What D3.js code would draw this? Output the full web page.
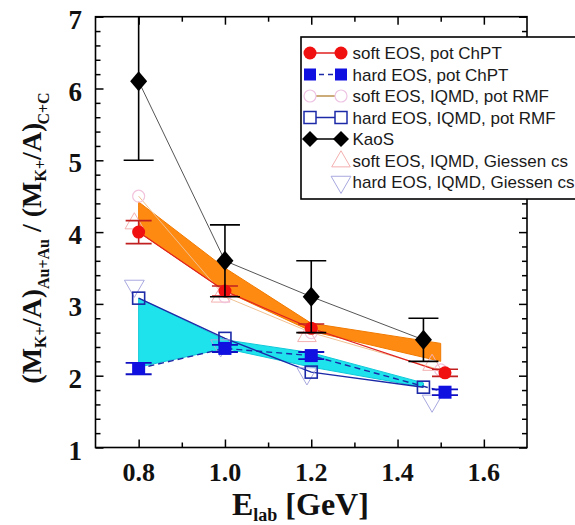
<!DOCTYPE html>
<html><head><meta charset="utf-8">
<script src="https://cdn.jsdelivr.net/npm/d3@7"></script>
<style>html,body{margin:0;padding:0;background:#fff;}svg{display:block;}</style>
</head><body>
<svg id="chart" width="575" height="525"></svg>
<script>
// ---------- data ----------
const xMajorTicks = [0.8, 1.0, 1.2, 1.4, 1.6];
const xMinorTicks = [0.9, 1.1, 1.3, 1.5];
const yMajorTicks = [1, 2, 3, 4, 5, 6, 7];
const yMinorTicks = [1.2,1.4,1.6,1.8,2.2,2.4,2.6,2.8,3.2,3.4,3.6,3.8,4.2,4.4,4.6,4.8,5.2,5.4,5.6,5.8,6.2,6.4,6.6,6.8];

const kaosE   = [0.8, 1.0, 1.2, 1.46];
const kaosVal = [6.1, 3.6, 3.1, 2.5];
const kaosErr = [1.1, 0.5, 0.5, 0.3];

const softChptE   = [0.8, 1.0, 1.2, 1.51];
const softChpt    = [4.0, 3.18, 2.66, 2.04];
const softChptErr = [0.16, 0.07, 0.06, 0.05];

const hardChptE   = [0.8, 1.0, 1.2, 1.51];
const hardChpt    = [2.1, 2.38, 2.28, 1.77];
const hardChptErr = [0.08, 0.05, 0.05, 0.04];

const softRmfE = [0.8, 1.0, 1.2, 1.5];
const softRmf  = [4.5, 3.1, 2.6, 2.08];

const hardRmfE = [0.8, 1.0, 1.2, 1.46];
const hardRmf  = [3.08, 2.52, 2.05, 1.84];

const softGiE = [0.79, 0.99, 1.19, 1.48];
const softGi  = [4.12, 3.1, 2.55, 2.15];

const hardGiE = [0.79, 0.99, 1.19, 1.48];
const hardGi  = [3.25, 2.42, 2.03, 1.65];

const softBandE  = [0.8, 1.0, 1.2, 1.5];
const softBandHi = [4.42, 3.5, 2.73, 2.45];
const softBandLo = [4.0, 3.18, 2.62, 2.2];

const hardBandE  = [0.8, 1.0, 1.2, 1.46];
const hardBandHi = [3.08, 2.5, 2.32, 1.9];
const hardBandLo = [2.12, 2.38, 2.12, 1.84];

const legendLabels = ["soft EOS, pot ChPT","hard EOS, pot ChPT","soft EOS, IQMD, pot RMF","hard EOS, IQMD, pot RMF","KaoS","soft EOS, IQMD, Giessen cs","hard EOS, IQMD, Giessen cs"];

// ---------- drawing ----------
const svg = d3.select("#chart");
const x = d3.scaleLinear().domain([0.7, 1.7]).range([95.5, 527]);
const y = d3.scaleLinear().domain([1, 7]).range([447.5, 16.7]);
const zip = (xs, ys) => xs.map((v, i) => [v, ys[i]]);

const plot = svg.append("g");
plot.append("clipPath").attr("id","clip").append("rect")
  .attr("x", x(0.7)).attr("y", y(7)).attr("width", x(1.7)-x(0.7)).attr("height", y(1)-y(7));
const g = plot.append("g").attr("clip-path","url(#clip)");

// bands
const area = d3.area().x(d => x(d[0])).y0(d => y(d[1])).y1(d => y(d[2]));
g.append("path").datum(softBandE.map((e,i)=>[e, softBandLo[i], softBandHi[i]]))
  .attr("d", area).attr("fill", "#ff8a12").attr("stroke", "#f07a00").attr("stroke-width", 1);
g.append("path").datum(hardBandE.map((e,i)=>[e, hardBandLo[i], hardBandHi[i]]))
  .attr("d", area).attr("fill", "#1ee3ec").attr("stroke", "#10c8d8").attr("stroke-width", 1);

const line = d3.line().x(d => x(d[0])).y(d => y(d[1]));
// series lines
g.append("path").datum(zip(softRmfE, softRmf)).attr("d", line).attr("fill","none").attr("stroke","#f0c090").attr("stroke-width",1);
g.append("path").datum(zip(softChptE, softChpt)).attr("d", line).attr("fill","none").attr("stroke","#e02020").attr("stroke-width",1.2);
g.append("path").datum(zip(hardRmfE, hardRmf)).attr("d", line).attr("fill","none").attr("stroke","#1c2aa8").attr("stroke-width",1.4);
g.append("path").datum(zip(hardChptE, hardChpt)).attr("d", line).attr("fill","none").attr("stroke","#1c2aa8").attr("stroke-width",1.4).attr("stroke-dasharray","6,4");
g.append("path").datum(zip(kaosE, kaosVal)).attr("d", line).attr("fill","none").attr("stroke","#555").attr("stroke-width",1);

// light Giessen triangles
const triUp = d3.symbol().type(d3.symbolTriangle).size(150);
const triDown = d3.symbol().type(d3.symbolTriangle).size(170);
g.selectAll(".sgi").data(zip(softGiE, softGi)).join("path")
  .attr("d", triUp).attr("transform", d => `translate(${x(d[0])},${y(d[1])})`)
  .attr("fill","none").attr("stroke","#f4b0b0").attr("stroke-width",1);
g.selectAll(".hgi").data(zip(hardGiE, hardGi)).join("path")
  .attr("d", triDown).attr("transform", d => `translate(${x(d[0])},${y(d[1])}) rotate(180)`)
  .attr("fill","none").attr("stroke","#a8a8e0").attr("stroke-width",1);

// soft RMF open circles
g.selectAll(".srmf").data(zip(softRmfE, softRmf)).join("circle")
  .attr("cx", d => x(d[0])).attr("cy", d => y(d[1])).attr("r", 6)
  .attr("fill","none").attr("stroke","#f2c4dc").attr("stroke-width",1.2);

// error bars helper
function errBars(es, vs, errs, color, capW, sw) {
  const data = es.map((e,i)=>({e, v: vs[i], s: errs[i]}));
  const eg = g.append("g").attr("stroke", color).attr("stroke-width", sw).attr("fill","none");
  data.forEach(d => {
    eg.append("line").attr("x1", x(d.e)).attr("x2", x(d.e)).attr("y1", y(d.v - d.s)).attr("y2", y(d.v + d.s));
    eg.append("line").attr("x1", x(d.e)-capW/2).attr("x2", x(d.e)+capW/2).attr("y1", y(d.v - d.s)).attr("y2", y(d.v - d.s));
    eg.append("line").attr("x1", x(d.e)-capW/2).attr("x2", x(d.e)+capW/2).attr("y1", y(d.v + d.s)).attr("y2", y(d.v + d.s));
  });
}

// hard RMF open squares
g.selectAll(".hrmf").data(zip(hardRmfE, hardRmf)).join("rect")
  .attr("x", d => x(d[0])-6).attr("y", d => y(d[1])-6).attr("width",12).attr("height",12)
  .attr("fill","none").attr("stroke","#1c2aa8").attr("stroke-width",1.6);

// ChPT error bars & markers
errBars(softChptE, softChpt, softChptErr, "#c02020", 26, 1.6);
errBars(hardChptE, hardChpt, hardChptErr, "#1010c0", 26, 1.8);
g.selectAll(".schpt").data(zip(softChptE, softChpt)).join("circle")
  .attr("cx", d => x(d[0])).attr("cy", d => y(d[1])).attr("r", 6.5).attr("fill","#f01010");
g.selectAll(".hchpt").data(zip(hardChptE, hardChpt)).join("rect")
  .attr("x", d => x(d[0])-6.5).attr("y", d => y(d[1])-6.5).attr("width",13).attr("height",13).attr("fill","#1010e0");

// KaoS
errBars(kaosE, kaosVal, kaosErr, "#000", 30, 1.6);
g.selectAll(".kaos").data(zip(kaosE, kaosVal)).join("path")
  .attr("d", "M0,-10L8.5,0L0,10L-8.5,0Z").attr("transform", d => `translate(${x(d[0])},${y(d[1])})`)
  .attr("fill","#000");

// axes (inward ticks on all sides)
function tickAxis(axisFn, scale, vals, size, transform) {
  plot.append("g").attr("transform", transform)
    .call(axisFn(scale).tickValues(vals).tickSize(size).tickFormat(""))
    .call(s => s.select(".domain").remove())
    .call(s => s.selectAll("line").attr("stroke","#000").attr("stroke-width",1.5));
}
const X0 = x(0.7), X1 = x(1.7), Y0 = y(1), Y1 = y(7);
tickAxis(d3.axisBottom, x, xMajorTicks, -8, `translate(0,${Y0})`);
tickAxis(d3.axisBottom, x, xMinorTicks, -5, `translate(0,${Y0})`);
tickAxis(d3.axisTop, x, xMajorTicks, -8, `translate(0,${Y1})`);
tickAxis(d3.axisTop, x, xMinorTicks, -5, `translate(0,${Y1})`);
tickAxis(d3.axisLeft, y, yMajorTicks, -8, `translate(${X0},0)`);
tickAxis(d3.axisLeft, y, yMinorTicks, -5, `translate(${X0},0)`);
tickAxis(d3.axisRight, y, yMajorTicks, -8, `translate(${X1},0)`);
tickAxis(d3.axisRight, y, yMinorTicks, -5, `translate(${X1},0)`);

plot.append("rect").attr("x", X0).attr("y", Y1).attr("width", X1-X0).attr("height", Y0-Y1)
  .attr("fill","none").attr("stroke","#000").attr("stroke-width",1.6);

// tick labels
const serif = "'Liberation Serif','Times New Roman',serif";
svg.append("g").selectAll("text").data(xMajorTicks).join("text")
  .attr("x", d => x(d)).attr("y", 481).attr("text-anchor","middle")
  .attr("font-family", serif).attr("font-weight","bold").attr("font-size",26).attr("fill","#111")
  .text(d => d3.format(".1f")(d));
svg.append("g").selectAll("text").data(yMajorTicks).join("text")
  .attr("x", 82).attr("y", d => y(d)+12).attr("text-anchor","end")
  .attr("font-family", serif).attr("font-weight","bold").attr("font-size",27).attr("fill","#111")
  .text(d => d);

// x axis title
const xt = svg.append("text").attr("x", 232).attr("y", 515)
  .attr("font-family", serif).attr("font-weight","bold").attr("font-size",32).attr("fill","#111");
xt.append("tspan").text("E");
xt.append("tspan").attr("font-size",18).attr("dy",6).text("lab");
xt.append("tspan").attr("dy",-6).text(" [GeV]");

// y axis title
const yt = svg.append("text").attr("transform","translate(41,238) rotate(-90)").attr("text-anchor","middle")
  .attr("font-family", serif).attr("font-weight","bold").attr("font-size",28).attr("fill","#111");
yt.append("tspan").text("(M");
yt.append("tspan").attr("font-size",16).attr("dy",5).text("K+");
yt.append("tspan").attr("dy",-5).text("/A)");
yt.append("tspan").attr("font-size",16).attr("dy",8).text("Au+Au");
yt.append("tspan").attr("dy",-8).text(" / (M");
yt.append("tspan").attr("font-size",16).attr("dy",5).text("K+");
yt.append("tspan").attr("dy",-5).text("/A)");
yt.append("tspan").attr("font-size",16).attr("dy",8).attr("dx",-2).text("C+C");

// legend
const lg = svg.append("g");
lg.append("rect").attr("x",301).attr("y",37).attr("width",300).attr("height",162)
  .attr("fill","#fff").attr("stroke","#000").attr("stroke-width",1.6);
const rowY = i => 53 + i*21.5;
const lx1 = 310, lx2 = 341;
// row 0: soft ChPT
lg.append("line").attr("x1",lx1).attr("x2",lx2).attr("y1",rowY(0)).attr("y2",rowY(0)).attr("stroke","#e02020").attr("stroke-width",1.5);
[lx1,lx2].forEach(cx => lg.append("circle").attr("cx",cx).attr("cy",rowY(0)).attr("r",6.5).attr("fill","#f01010"));
// row 1: hard ChPT
lg.append("line").attr("x1",lx1).attr("x2",lx2).attr("y1",rowY(1)).attr("y2",rowY(1)).attr("stroke","#1c2aa8").attr("stroke-width",1.5).attr("stroke-dasharray","5,4");
[lx1,lx2].forEach(cx => lg.append("rect").attr("x",cx-6).attr("y",rowY(1)-6).attr("width",12).attr("height",12).attr("fill","#1010e0"));
// row 2: soft RMF
lg.append("line").attr("x1",lx1+6).attr("x2",lx2-6).attr("y1",rowY(2)).attr("y2",rowY(2)).attr("stroke","#b08030").attr("stroke-width",1.3);
[lx1,lx2].forEach(cx => lg.append("circle").attr("cx",cx).attr("cy",rowY(2)).attr("r",6).attr("fill","none").attr("stroke","#eec4e4").attr("stroke-width",1.2));
// row 3: hard RMF
lg.append("line").attr("x1",lx1+6).attr("x2",lx2-6).attr("y1",rowY(3)).attr("y2",rowY(3)).attr("stroke","#1c2aa8").attr("stroke-width",1.5);
[lx1,lx2].forEach(cx => lg.append("rect").attr("x",cx-6).attr("y",rowY(3)-6).attr("width",12).attr("height",12).attr("fill","none").attr("stroke","#1c2aa8").attr("stroke-width",1.5));
// row 4: KaoS
lg.append("line").attr("x1",lx1).attr("x2",lx2).attr("y1",rowY(4)).attr("y2",rowY(4)).attr("stroke","#000").attr("stroke-width",1.5);
[lx1,lx2].forEach(cx => lg.append("path").attr("d","M0,-8L8,0L0,8L-8,0Z").attr("transform",`translate(${cx},${rowY(4)})`).attr("fill","#000"));
// row 5, 6: Giessen
lg.append("path").attr("d", triUp).attr("transform",`translate(${lx2},${rowY(5)+1})`).attr("fill","none").attr("stroke","#f4b0b0").attr("stroke-width",1);
lg.append("path").attr("d", triDown).attr("transform",`translate(${lx2},${rowY(6)}) rotate(180)`).attr("fill","none").attr("stroke","#a8a8e0").attr("stroke-width",1);
lg.selectAll(".lt").data(legendLabels).join("text")
  .attr("x",352.5).attr("y",(d,i)=>rowY(i)+6)
  .attr("font-family","'Liberation Sans',Arial,sans-serif").attr("font-size",17).attr("fill","#1a1a1a")
  .text(d => d);
</script>
</body></html>
